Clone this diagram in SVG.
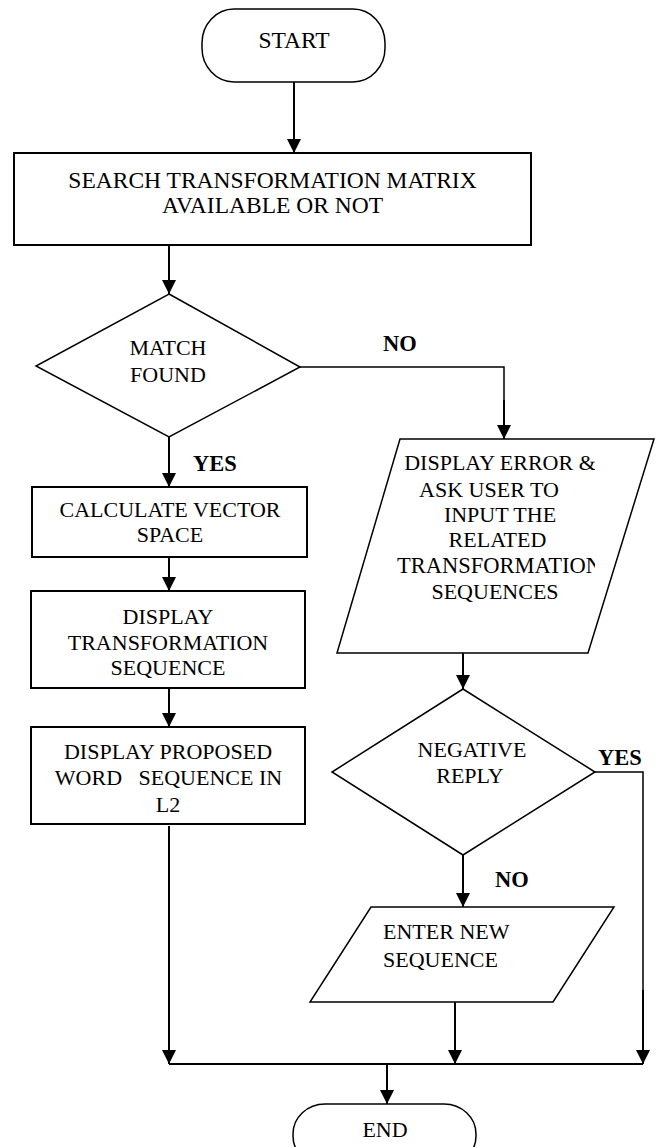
<svg xmlns="http://www.w3.org/2000/svg" width="661" height="1147" viewBox="0 0 661 1147">
  <style>
    .shape { fill: #ffffff; stroke: #000000; stroke-width: 2; }
    .thin { fill: #ffffff; stroke: #000000; stroke-width: 1.5; }
    .wire { fill: none; stroke: #000000; stroke-width: 2; }
    .wire-thin { fill: none; stroke: #000000; stroke-width: 1.5; }
    .arrow { fill: none; stroke: #000000; stroke-width: 2; marker-end: url(#head); }
    text { font-family: "Liberation Serif", "Times New Roman", serif; font-size: 22px; fill: #000000; }
    .mid { text-anchor: middle; }
    .big { font-size: 23.5px; }
    .label { font-weight: bold; font-size: 22.5px; }
    .pre { white-space: pre; }
  </style>
  <defs>
    <marker id="head" viewBox="0 0 14 14" refX="14" refY="7" markerWidth="14" markerHeight="14" markerUnits="userSpaceOnUse" orient="auto">
      <path d="M0,0 L14,7 L0,14 z" fill="#000000"/>
    </marker>
    <clipPath id="errorClip">
      <rect x="330" y="430" width="265" height="230"/>
    </clipPath>
  </defs>

  <!-- connectors -->
  <g id="connectors">
    <line class="arrow" x1="294" y1="82" x2="294" y2="153"/>
    <line class="arrow" x1="169" y1="246" x2="169" y2="294"/>
    <polyline class="wire-thin" points="300,367 504,367 504,420"/>
    <line class="arrow" x1="504" y1="400" x2="504" y2="439"/>
    <line class="arrow" x1="169" y1="437" x2="169" y2="487"/>
    <line class="arrow" x1="169" y1="557" x2="169" y2="591"/>
    <line class="arrow" x1="169" y1="688" x2="169" y2="727"/>
    <line class="arrow" x1="169" y1="826" x2="169" y2="1064"/>
    <line class="arrow" x1="463" y1="653" x2="463" y2="689"/>
    <polyline class="wire-thin" points="595,772 643,772 643,1000"/>
    <line class="arrow" x1="643" y1="990" x2="643" y2="1064"/>
    <line class="arrow" x1="463" y1="855" x2="463" y2="907"/>
    <line class="arrow" x1="455" y1="1002" x2="455" y2="1064"/>
    <line class="wire" x1="169" y1="1064" x2="643" y2="1064"/>
    <line class="arrow" x1="387" y1="1064" x2="387" y2="1104"/>
    <text class="label" x="383" y="351">NO</text>
    <text class="label" x="193" y="471">YES</text>
    <text class="label" x="598" y="765">YES</text>
    <text class="label" x="495" y="887">NO</text>
  </g>

  <g id="start">
    <rect class="thin" x="202" y="9" width="183" height="73" rx="32" ry="34"/>
    <text class="mid big" x="294" y="48">START</text>
  </g>

  <g id="search">
    <rect class="shape" x="14" y="153" width="517" height="92"/>
    <text class="mid big" x="272.5" y="188">SEARCH TRANSFORMATION MATRIX</text>
    <text class="mid big" x="272.5" y="213">AVAILABLE OR NOT</text>
  </g>

  <g id="match-found">
    <polygon class="thin" points="169,294 300,367 169,437 36,366"/>
    <text class="mid" x="168" y="355">MATCH</text>
    <text class="mid" x="168" y="382">FOUND</text>
  </g>

  <g id="calculate">
    <rect class="shape" x="32" y="487" width="275" height="70"/>
    <text class="mid" x="170" y="517">CALCULATE VECTOR</text>
    <text class="mid" x="170" y="542">SPACE</text>
  </g>

  <g id="display-sequence">
    <rect class="shape" x="31" y="591" width="274" height="97"/>
    <text class="mid" x="168" y="624">DISPLAY</text>
    <text class="mid" x="168" y="650">TRANSFORMATION</text>
    <text class="mid" x="168" y="675">SEQUENCE</text>
  </g>

  <g id="display-proposed">
    <rect class="shape" x="31" y="727" width="274" height="97"/>
    <text class="mid" x="168" y="759">DISPLAY PROPOSED</text>
    <text class="mid pre" x="168.5" y="785" xml:space="preserve">WORD   SEQUENCE IN</text>
    <text class="mid" x="168" y="812">L2</text>
  </g>

  <g id="display-error">
    <polygon class="thin" points="400,439 654,439 588,653 337,653"/>
    <g clip-path="url(#errorClip)">
      <text class="mid" x="500" y="470">DISPLAY ERROR &amp;</text>
      <text class="mid" x="489" y="497">ASK USER TO</text>
      <text class="mid" x="500" y="522">INPUT THE</text>
      <text class="mid" x="497.5" y="547">RELATED</text>
      <text x="397" y="573" style="font-size:22.5px">TRANSFORMATION</text>
      <text class="mid" x="495" y="599">SEQUENCES</text>
    </g>
  </g>

  <g id="negative-reply">
    <polygon class="thin" points="463,689 595,772 463,855 332,772"/>
    <text class="mid" x="472" y="757">NEGATIVE</text>
    <text class="mid" x="470" y="783">REPLY</text>
  </g>

  <g id="enter-new">
    <polygon class="thin" points="371,907 614,907 553,1002 310,1002"/>
    <text x="383" y="939">ENTER NEW</text>
    <text x="383" y="967">SEQUENCE</text>
  </g>

  <g id="end">
    <rect class="thin" x="293" y="1104" width="183" height="62" rx="32" ry="30"/>
    <text class="mid" x="385" y="1137">END</text>
  </g>
</svg>
